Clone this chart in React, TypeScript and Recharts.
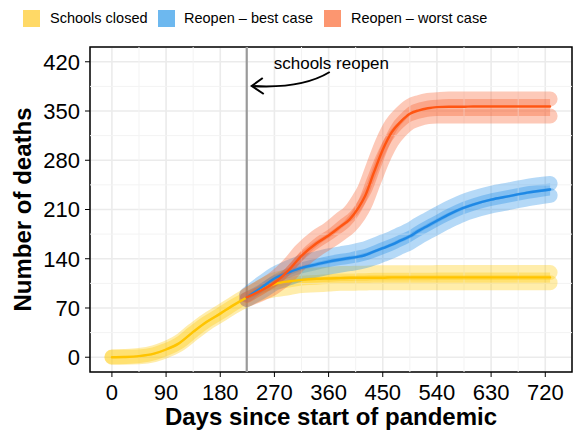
import React from 'react';
import {
  ComposedChart, Line, Area, XAxis, YAxis, CartesianGrid, ReferenceLine, ReferenceArea, Label,
} from 'recharts';

const FONT = '"Liberation Sans", Arial, Helvetica, sans-serif';

// days since start of pandemic
const days = [0, 20, 45, 70, 90, 110, 135, 157, 180, 200, 224, 250, 270, 295, 315, 340, 360, 380, 395, 410,
  420, 435, 450, 465, 480, 495, 510, 525, 540, 560, 583, 600, 630, 660, 690, 728];

const closedMid = [0, 0.3, 1.5, 5, 11, 19, 36, 50, 62, 73, 85, 97, 104, 108, 110, 111.5, 112, 112.5, 113, 113,
  113, 113, 113, 113.5, 113.5, 113.5, 113.5, 113.5, 113.5, 113.5, 113.5, 113.5, 113.5, 113.5, 113.5, 113.5];
const closedLo = [0, 0, 0.5, 3.5, 9.5, 17.5, 34, 48, 60, 71, 82, 92, 96, 99, 102, 103, 104, 105, 105, 105.5,
  105.5, 106, 106, 106, 106, 106, 106, 106, 106, 106, 106, 106, 106, 106, 106, 106];
const closedHi = [0.5, 1, 2.5, 6.5, 12.5, 21, 38, 52, 64, 75, 88, 101, 110, 114, 116, 117, 118, 119, 119, 119.5,
  119.5, 120, 120, 120, 120, 120, 120, 120, 120.5, 120.5, 120.5, 120.5, 120.5, 120.5, 120.5, 120.5];

const N = null;
const bestMid = [N, N, N, N, N, N, N, N, N, N, 85, 100, 112, 121, 127, 132, 136, 139, 141, 143,
  145, 150, 155, 160, 166, 172, 180, 187, 194, 203, 212, 217, 224, 229, 234, 238.5];
const bestLo = [N, N, N, N, N, N, N, N, N, N, 82, 94, 105, 113, 119, 124, 128, 131, 133, 135,
  137, 141, 146, 151, 157, 163, 171, 178, 185, 194, 203, 208, 215, 220, 225, 230];
const bestHi = [N, N, N, N, N, N, N, N, N, N, 89, 106, 118, 128, 135, 140, 144, 147, 149, 152,
  154, 159, 164, 169, 175, 181, 189, 196, 203, 212, 221, 226, 233, 238, 243, 247];

const worstMid = [N, N, N, N, N, N, N, N, N, N, 85, 96, 106, 125, 144, 162, 173, 186, 196, 213,
  228, 262, 295, 320, 335, 346, 351, 354, 355.5, 356, 356, 356.5, 356.5, 356.5, 356.5, 356.5];
const worstLo = [N, N, N, N, N, N, N, N, N, N, 82, 91, 100, 117, 136, 153, 164, 176, 186, 202,
  217, 250, 282, 307, 323, 334, 339, 342, 343, 343, 343, 343, 343, 343, 343, 343];
const worstHi = [N, N, N, N, N, N, N, N, N, N, 88, 101, 112, 132, 152, 171, 182, 196, 206, 224,
  239, 273, 306, 331, 346, 357, 362, 365, 366, 367, 367, 367, 367, 367, 367, 367];

const xTicks = [0, 90, 180, 270, 360, 450, 540, 630, 720];
const yTicks = [0, 70, 140, 210, 280, 350, 420];
const xMinor = [45, 135, 225, 315, 405, 495, 585, 675];
const yMinor = [35, 105, 175, 245, 315, 385];
const reopenDay = 224;

const legendItems = [
  { name: 'Schools closed', color: '#FFD966', left: 23, textLeft: 50 },
  { name: 'Reopen – best case', color: '#6DB8EF', left: 158, textLeft: 184 },
  { name: 'Reopen – worst case', color: '#FC9670', left: 324, textLeft: 351 },
];

const data = days.map((x, i) => ({
  x,
  closed: closedMid[i],
  closedLo: closedLo[i],
  closedHi: closedHi[i],
  closedBand: [closedLo[i], closedHi[i]],
  best: bestMid[i],
  bestLo: bestLo[i],
  bestHi: bestHi[i],
  bestBand: bestMid[i] == null ? null : [bestLo[i], bestHi[i]],
  worst: worstMid[i],
  worstLo: worstLo[i],
  worstHi: worstHi[i],
  worstBand: worstMid[i] == null ? null : [worstLo[i], worstHi[i]],
}));

const series = [
  { key: 'closed', band: '#FFC800', line: '#FFC400' },
  { key: 'best', band: '#1E8CE6', line: '#1E88E5' },
  { key: 'worst', band: '#FA5A28', line: '#FF5512' },
];

function ReopenNote(props: any) {
  const vb = props.viewBox || {};
  const x = vb.x;
  const top = vb.y;
  if (x == null) return null;
  return (
    <g>
      <text x={x + 27} y={top + 22} fontSize={17} fontFamily={FONT} fill="#000">schools reopen</text>
      <path d={`M ${x + 83} ${top + 25} Q ${x + 55} ${top + 42} ${x + 5} ${top + 39}`}
        fill="none" stroke="#000" strokeWidth={2} />
      <path d={`M ${x + 16} ${top + 31} L ${x + 5} ${top + 39} L ${x + 17} ${top + 47}`}
        fill="none" stroke="#000" strokeWidth={2} />
    </g>
  );
}

export default function App() {
  return (
    <div style={{ position: 'absolute', left: 0, top: 0, width: 574, height: 432, background: '#fff', fontFamily: FONT }}>
      {legendItems.map((it) => (
        <React.Fragment key={it.name}>
          <div style={{ position: 'absolute', left: it.left, top: 10, width: 17, height: 17, background: it.color }} />
          <div style={{ position: 'absolute', left: it.textLeft, top: 9, fontSize: 14.5, lineHeight: '19px', color: '#000', whiteSpace: 'nowrap' }}>
            {it.name}
          </div>
        </React.Fragment>
      ))}
      <ComposedChart width={574} height={432} data={data} margin={{ top: 47, right: 2, left: 0, bottom: 0 }}>
        <CartesianGrid stroke="#EBEBEB" strokeWidth={1.6} />
        {xMinor.map((v) => (
          <ReferenceLine key={'vx' + v} x={v} stroke="#F3F3F3" strokeWidth={1} />
        ))}
        {yMinor.map((v) => (
          <ReferenceLine key={'hy' + v} y={v} stroke="#F3F3F3" strokeWidth={1} />
        ))}
        <XAxis
          type="number"
          dataKey="x"
          domain={[-36.4, 764.4]}
          allowDataOverflow
          ticks={xTicks}
          height={60}
          tickSize={5}
          tickMargin={7}
          axisLine={false}
          tickLine={{ stroke: '#000', strokeWidth: 1 }}
          tick={{ fill: '#000', fontSize: 22, fontFamily: FONT }}
        >
          <Label value="Days since start of pandemic" position="insideBottom" offset={7}
            style={{ fontSize: 24, fontWeight: 'bold', fontFamily: FONT, fill: '#000' }} />
        </XAxis>
        <YAxis
          type="number"
          domain={[-21, 441]}
          allowDataOverflow
          ticks={yTicks}
          width={90}
          tickSize={5}
          tickMargin={5}
          axisLine={false}
          tickLine={{ stroke: '#000', strokeWidth: 1 }}
          tick={{ fill: '#000', fontSize: 22, fontFamily: FONT }}
        >
          <Label value="Number of deaths" angle={-90} position="insideLeft" offset={22}
            style={{ fontSize: 24, fontWeight: 'bold', fontFamily: FONT, fill: '#000', textAnchor: 'middle' }} />
        </YAxis>
        <ReferenceLine x={reopenDay} stroke="#9A9A9A" strokeWidth={2.2} label={(p: any) => <ReopenNote {...p} />} />

        {series.map((s) => (
          <Area key={s.key + 'Band'} type="monotone" dataKey={s.key + 'Band'} stroke="none" fill={s.band}
            fillOpacity={0.33} isAnimationActive={false} activeDot={false} dot={false} />
        ))}
        {series.map((s) => [
          <Line key={s.key + 'Hi'} type="monotone" dataKey={s.key + 'Hi'} stroke={s.band} strokeOpacity={0.33}
            strokeWidth={15} strokeLinecap="round" strokeLinejoin="round" dot={false} activeDot={false}
            isAnimationActive={false} />,
          <Line key={s.key + 'Lo'} type="monotone" dataKey={s.key + 'Lo'} stroke={s.band} strokeOpacity={0.33}
            strokeWidth={15} strokeLinecap="round" strokeLinejoin="round" dot={false} activeDot={false}
            isAnimationActive={false} />,
        ])}
        {series.map((s) => (
          <Line key={s.key} type="monotone" dataKey={s.key} stroke={s.line} strokeWidth={2.4}
            strokeLinecap="round" dot={false} activeDot={false} isAnimationActive={false} />
        ))}
        <ReferenceArea x1={-36.4} x2={764.4} y1={-21} y2={441} fill="none" stroke="#000" strokeWidth={1.5} />
      </ComposedChart>
    </div>
  );
}
